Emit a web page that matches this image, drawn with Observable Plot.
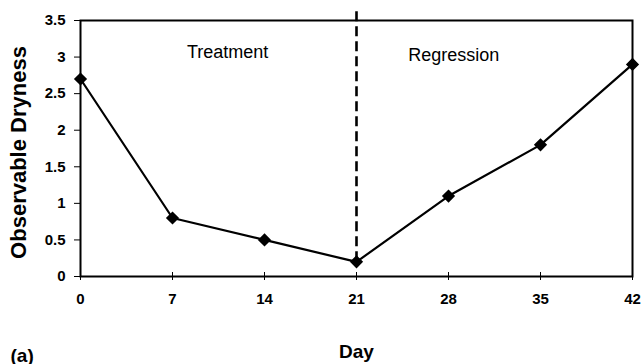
<!DOCTYPE html>
<html>
<head>
<meta charset="utf-8">
<script src="https://cdn.jsdelivr.net/npm/d3@7"></script>
<script src="https://cdn.jsdelivr.net/npm/@observablehq/plot@0.6"></script>
<style>
  html, body { margin: 0; padding: 0; background: #fff; overflow: hidden; }
  #chart { width: 642px; height: 364px; }
</style>
</head>
<body>
<div id="chart"></div>
<script>
const days = [0, 7, 14, 21, 28, 35, 42];
const dryness = [2.7, 0.8, 0.5, 0.2, 1.1, 1.8, 2.9];
const xTicks = [0, 7, 14, 21, 28, 35, 42];
const yTicks = [0, 0.5, 1, 1.5, 2, 2.5, 3, 3.5];
const phaseNames = ["Treatment", "Regression"];
const phaseX = [11.2, 28.4];
const phaseY = [3.06, 3.02];
const splitDay = [21];
const splitFrom = [0.2];
const splitTo = [3.67];
const yTitle = "Observable Dryness";
const xTitle = "Day";
const panel = "(a)";

const points = days.map((d, i) => ({day: d, value: dryness[i]}));
const phases = phaseNames.map((n, i) => ({name: n, x: phaseX[i], y: phaseY[i]}));
const split = splitDay.map((d, i) => ({x: d, y1: splitFrom[i], y2: splitTo[i]}));

const font = "'Liberation Sans', Arial, sans-serif";

const chart = Plot.plot({
  width: 642,
  height: 364,
  marginLeft: 80,
  marginRight: 10,
  marginTop: 20,
  marginBottom: 88,
  style: {fontFamily: font, background: "#fff", color: "#000", overflow: "visible"},
  x: {domain: [0, 42]},
  y: {domain: [0, 3.5]},
  marks: [
    Plot.frame({stroke: "#000", strokeWidth: 2}),
    Plot.axisY({ticks: yTicks, tickSize: 6, text: null, label: null}),
    Plot.axisX({ticks: xTicks, tickSize: 4, text: null, label: null}),
    Plot.axisX({ticks: xTicks, tickSize: 4, text: null, label: null, dy: -4}),
    Plot.text(yTicks, {y: d => d, text: d => String(d), frameAnchor: "left", dx: -15, textAnchor: "end", fontSize: 15, fontWeight: "bold", fill: "#000", ariaLabel: "ytl"}),
    Plot.text(xTicks, {x: d => d, text: d => String(d), frameAnchor: "bottom", dy: 17, lineAnchor: "top", textAnchor: "middle", fontSize: 15, fontWeight: "bold", fill: "#000", ariaLabel: "xtl"}),
    Plot.text([yTitle], {frameAnchor: "left", dx: -62, dy: 4, rotate: -90, textAnchor: "middle", fontSize: 22, fontWeight: "bold", fill: "#000", ariaLabel: "ylabel"}),
    Plot.text([xTitle], {frameAnchor: "bottom", dy: 81, lineAnchor: "bottom", textAnchor: "middle", fontSize: 19, fontWeight: "bold", fill: "#000", ariaLabel: "xlabel"}),
    Plot.ruleX(split, {x: "x", y1: "y1", y2: "y2", stroke: "#000", strokeWidth: 2.6, strokeDasharray: "10,5", clip: false}),
    Plot.line(points, {x: "day", y: "value", stroke: "#000", strokeWidth: 2.2}),
    Plot.dot(points, {x: "day", y: "value", symbol: "diamond2", r: 5, fill: "#000", stroke: "#000"}),
    Plot.text(phases, {x: "x", y: "y", text: "name", fontSize: 18, fill: "#000", textAnchor: "middle"}),
    Plot.text([panel], {frameAnchor: "bottom-left", dx: -70, dy: 85, lineAnchor: "bottom", fontSize: 19, fontWeight: "bold", textAnchor: "start", fill: "#000"})
  ]
});
document.getElementById("chart").appendChild(chart);
</script>
</body>
</html>
